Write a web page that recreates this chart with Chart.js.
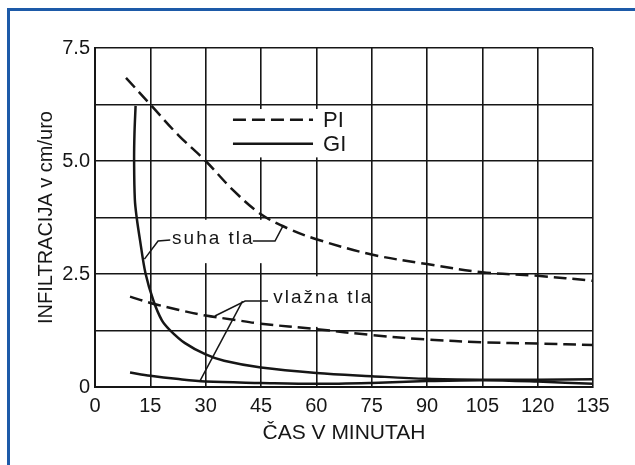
<!DOCTYPE html>
<html><head><meta charset="utf-8">
<script src="https://cdn.jsdelivr.net/npm/chart.js@4/dist/chart.umd.min.js"></script>
<style>
html,body{margin:0;padding:0;background:#fff;overflow:hidden}
#wrap{position:relative;width:635px;height:465px;background:#fff}
#frame{position:absolute;left:7px;top:8px;width:660px;height:490px;border-top:3px solid #1d5aa8;border-left:3px solid #1d5aa8;pointer-events:none}
canvas{position:absolute;left:0;top:0}
</style></head><body>
<div id="wrap"><canvas id="c" width="635" height="465"></canvas><div id="frame"></div></div>
<script>
// ---- data ----
const xTicks = [0, 15, 30, 45, 60, 75, 90, 105, 120, 135];
const yTickLabels = ['0', '2.5', '5.0', '7.5'];

const piDryX = [8.4, 15, 22.5, 30, 37.5, 45, 52.5, 60, 75, 90, 105, 120, 135];
const piDryY = [6.84, 6.25, 5.58, 5.0, 4.35, 3.82, 3.50, 3.27, 2.93, 2.72, 2.54, 2.46, 2.35];

const piWetX = [9.5, 15, 22.5, 30, 37.5, 45, 60, 75, 90, 105, 120, 135];
const piWetY = [2.0, 1.86, 1.71, 1.58, 1.49, 1.40, 1.28, 1.15, 1.05, 0.99, 0.96, 0.93];

const giDryX = [11.0, 10.7, 10.6, 10.8, 11.3, 12.2, 13.7, 15.8, 18.1, 20.3, 24.4, 30, 35, 45, 60, 75, 90, 105, 120, 135];
const giDryY = [6.22, 5.6, 5.0, 4.15, 3.75, 3.25, 2.51, 1.92, 1.48, 1.26, 0.97, 0.72, 0.58, 0.43, 0.31, 0.24, 0.18, 0.16, 0.16, 0.17];

const giWetX = [9.5, 15, 22, 30, 45, 60, 75, 90, 105, 120, 135];
const giWetY = [0.32, 0.25, 0.18, 0.12, 0.09, 0.07, 0.09, 0.13, 0.15, 0.12, 0.07];

const seriesNames = ['PI suha tla', 'PI vlažna tla', 'GI suha tla', 'GI vlažna tla'];
const legendNames = ['PI', 'GI'];
const labelDry = 'suha tla';
const labelWet = 'vlažna tla';
const xTitle = 'ČAS V MINUTAH';
const yTitle = 'INFILTRACIJA v cm/uro';

// ---- helpers ----
const pts = (xs, ys) => xs.map((v, i) => ({x: v, y: ys[i]}));
const INK = '#161616';
const FONT = "'Liberation Sans', Arial, sans-serif";
const DASH = [13, 6];

// annotation geometry (in data units)
const masks = [
  [35.5, 6.15, 67.0, 5.08],
  [17.6, 3.70, 50.2, 2.74],
  [47.0, 2.45, 74.3, 1.33]
];
const leaders = [
  [[20.4, 3.25], [17.1, 3.23], [13.4, 2.83]],
  [[42.8, 3.23], [48.8, 3.23], [51.0, 3.57]],
  [[46.9, 1.90], [40.7, 1.90], [32.5, 1.57]],
  [[40.0, 1.90], [28.5, 0.14]]
];

const annot = {
  id: 'annot',
  beforeDatasetsDraw(chart) {
    const {ctx, scales: {x, y}} = chart;
    ctx.save();
    ctx.fillStyle = '#fff';
    masks.forEach(b => {
      const x1 = x.getPixelForValue(b[0]), x2 = x.getPixelForValue(b[2]);
      const y1 = y.getPixelForValue(b[1]), y2 = y.getPixelForValue(b[3]);
      ctx.fillRect(x1, y1, x2 - x1, y2 - y1);
    });
    ctx.restore();
  },
  afterDatasetsDraw(chart) {
    const {ctx, scales: {x, y}} = chart;
    const P = (a) => [x.getPixelForValue(a[0]), y.getPixelForValue(a[1])];
    ctx.save();
    ctx.strokeStyle = INK;
    ctx.lineWidth = 1.5;
    leaders.forEach(l => {
      ctx.beginPath();
      l.forEach((p, i) => { const q = P(p); i ? ctx.lineTo(q[0], q[1]) : ctx.moveTo(q[0], q[1]); });
      ctx.stroke();
    });
    ctx.fillStyle = INK;
    ctx.textBaseline = 'middle';
    ctx.textAlign = 'left';
    ctx.font = '19px ' + FONT;
    try { ctx.letterSpacing = '2px'; } catch (e) {}
    let q = P([20.9, 3.27]); ctx.fillText(labelDry, q[0], q[1]);
    q = P([48.3, 1.97]); ctx.fillText(labelWet, q[0], q[1]);
    try { ctx.letterSpacing = '0px'; } catch (e) {}
    // legend
    const ds = chart.data.datasets;
    const rows = [[ds[0], 5.91, legendNames[0]], [ds[2], 5.38, legendNames[1]]];
    rows.forEach(r => {
      const a = P([37.4, r[1]]), b = P([59.1, r[1]]);
      ctx.beginPath();
      ctx.setLineDash(r[0].borderDash || []);
      ctx.lineWidth = r[0].borderWidth;
      ctx.moveTo(a[0], a[1]); ctx.lineTo(b[0], b[1]);
      ctx.stroke();
      ctx.setLineDash([]);
      ctx.font = '22px ' + FONT;
      ctx.fillText(r[2], b[0] + 10, a[1] + 1);
    });
    ctx.restore();
  }
};

const lineDs = (label, data, dash) => ({
  label, data, borderColor: INK, borderWidth: 2.5, borderDash: dash,
  pointRadius: 0, fill: false, tension: 0.35, borderCapStyle: 'butt'
});

new Chart(document.getElementById('c'), {
  type: 'line',
  data: {
    datasets: [
      lineDs(seriesNames[0], pts(piDryX, piDryY), DASH),
      lineDs(seriesNames[1], pts(piWetX, piWetY), DASH),
      lineDs(seriesNames[2], pts(giDryX, giDryY), []),
      lineDs(seriesNames[3], pts(giWetX, giWetY), [])
    ]
  },
  options: {
    responsive: false,
    animation: false,
    events: [],
    layout: {padding: {top: 48, right: 42, left: 0, bottom: 0}},
    plugins: {legend: {display: false}, tooltip: {enabled: false}},
    scales: {
      x: {
        type: 'linear', min: 0, max: 135,
        afterBuildTicks: s => { s.ticks = xTicks.map(v => ({value: v})); },
        ticks: {color: INK, font: {family: FONT, size: 20}, padding: 7, autoSkip: false, maxRotation: 0,
                callback: v => String(v)},
        grid: {color: INK, lineWidth: 1.6, drawTicks: false},
        border: {color: INK, width: 2},
        title: {display: true, text: xTitle, color: INK, font: {family: FONT, size: 21}, padding: {top: 0, bottom: 19}},
        afterFit: s => { s.height = 78; }
      },
      y: {
        min: 0, max: 7.5,
        ticks: {stepSize: 1.25, color: INK, font: {family: FONT, size: 20}, padding: 5, autoSkip: false,
                callback: v => { const i = Math.round(v / 2.5); return Math.abs(v - i * 2.5) < 1e-6 ? yTickLabels[i] : ''; }},
        grid: {color: INK, lineWidth: 1.6, drawTicks: false},
        border: {color: INK, width: 2},
        title: {display: true, text: yTitle, color: INK, font: {family: FONT, size: 20}, padding: {top: 34, bottom: 0}},
        afterFit: s => { s.width = 95; }
      }
    }
  },
  plugins: [annot]
});
</script>
</body></html>
